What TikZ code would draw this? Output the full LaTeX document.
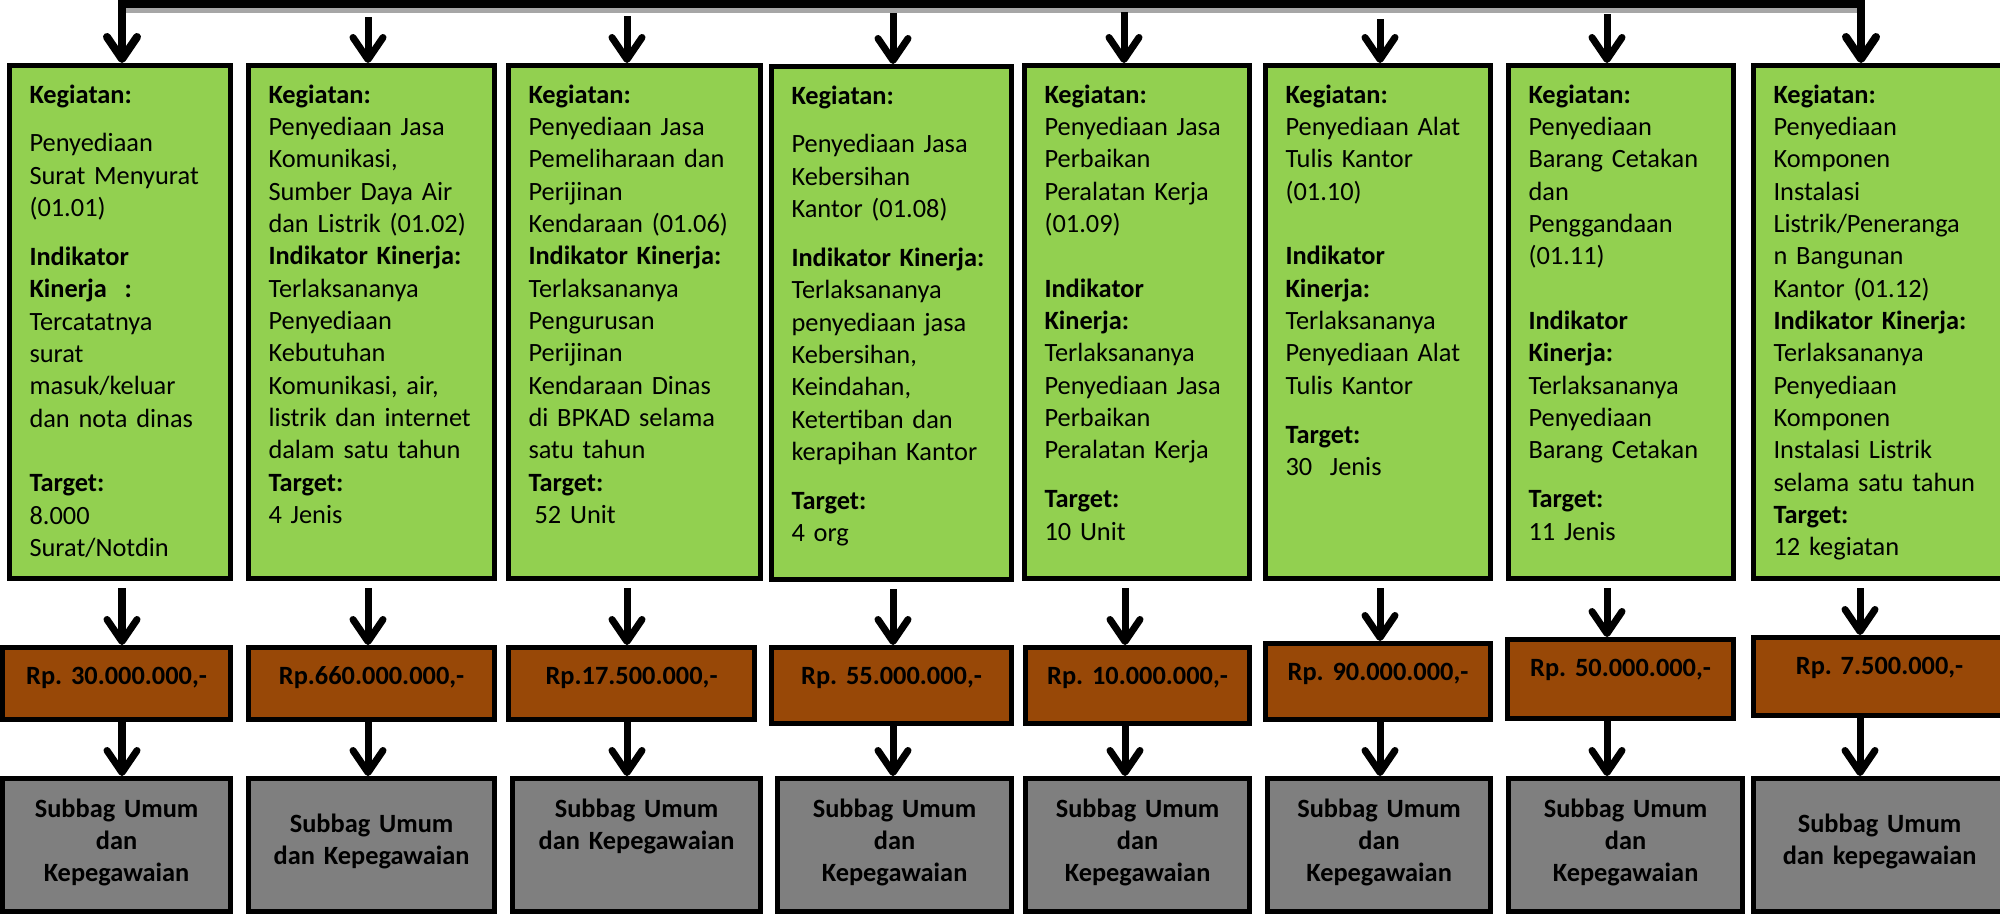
\documentclass[tikz,border=0pt]{standalone}
\usepackage{fontspec}
\setmainfont{Carlito}
\usetikzlibrary{arrows.meta}
\frenchspacing

\definecolor{hijau}{HTML}{92D050}
\definecolor{coklat}{HTML}{984807}
\definecolor{abu}{HTML}{7F7F7F}

\tikzset{
	basic/.style  = {draw, line width=0.05cm, rectangle, anchor=north west,
		inner xsep=0.2cm, inner ysep=0pt, font=\fontsize{7.5pt}{9.2pt}\selectfont},
	kegiatan/.style = {basic, fill=hijau, align=left,
		text height=0.375cm, text depth=4.755cm},
	anggaran/.style = {basic, fill=coklat, align=center,
		font=\fontsize{7.5pt}{9.2pt}\selectfont\bfseries, text height=0.365cm, text depth=0.355cm},
	pelaksana/.style = {basic, fill=abu, align=center,
		font=\fontsize{7.5pt}{9.2pt}\selectfont\bfseries, text height=0.385cm, text depth=0.945cm},
	pelaksana 2/.style = {pelaksana, text height=0.535cm, text depth=0.795cm},
	panah/.style = {->, draw, line width=0.07cm}
}

\begin{document}
\begin{tikzpicture}[x=0.01cm, y=-0.01cm,
>={Straight Barb[length=0.22cm,width=0.3cm,round]}]
\useasboundingbox (0,0) rectangle (2000,914);

% first row, the activities
\node[kegiatan, text width=1.81cm] (c1) at (7,63) {\textbf{Kegiatan:}\\[4.7pt]
	Penyediaan\\Surat Menyurat\\(01.01)\\[4.7pt]
	\textbf{Indikator}\\\textbf{Kinerja~~:}\\Tercatatnya\\surat\\masuk/keluar\\dan nota dinas\\[9.2pt]
	\textbf{Target:}\\8.000\\Surat/Notdin};
\node[kegiatan, text width=2.06cm] (c2) at (246,63) {\textbf{Kegiatan:}\\
	Penyediaan Jasa\\Komunikasi,\\Sumber Daya Air\\dan Listrik (01.02)\\
	\textbf{Indikator Kinerja:}\\Terlaksananya\\Penyediaan\\Kebutuhan\\Komunikasi, air,\\listrik dan internet\\dalam satu tahun\\
	\textbf{Target:}\\4 Jenis};
\node[kegiatan, text width=2.12cm] (c3) at (506,63) {\textbf{Kegiatan:}\\
	Penyediaan Jasa\\Pemeliharaan dan\\Perijinan\\Kendaraan (01.06)\\
	\textbf{Indikator Kinerja:}\\Terlaksananya\\Pengurusan\\Perijinan\\Kendaraan Dinas\\di BPKAD selama\\satu tahun\\
	\textbf{Target:}\\\hspace*{0.23em}52 Unit};
\node[kegiatan, text width=2.00cm] (c4) at (769,64) {\textbf{Kegiatan:}\\[4.7pt]
	Penyediaan Jasa\\Kebersihan\\Kantor (01.08)\\[4.7pt]
	\textbf{Indikator Kinerja:}\\Terlaksananya\\penyediaan jasa\\Kebersihan,\\Keindahan,\\Ketertiban dan\\kerapihan Kantor\\[4.7pt]
	\textbf{Target:}\\4 org};
\node[kegiatan, text width=1.85cm] (c5) at (1022,63) {\textbf{Kegiatan:}\\
	Penyediaan Jasa\\Perbaikan\\Peralatan Kerja\\(01.09)\\[9.2pt]
	\textbf{Indikator}\\\textbf{Kinerja:}\\Terlaksananya\\Penyediaan Jasa\\Perbaikan\\Peralatan Kerja\\[4.7pt]
	\textbf{Target:}\\10 Unit};
\node[kegiatan, text width=1.85cm] (c6) at (1263,63) {\textbf{Kegiatan:}\\
	Penyediaan Alat\\Tulis Kantor\\(01.10)\\[9.2pt]
	\textbf{Indikator}\\\textbf{Kinerja:}\\Terlaksananya\\Penyediaan Alat\\Tulis Kantor\\[4.7pt]
	\textbf{Target:}\\30~~Jenis};
\node[kegiatan, text width=1.85cm] (c7) at (1506,63) {\textbf{Kegiatan:}\\
	Penyediaan\\Barang Cetakan\\dan\\Penggandaan\\(01.11)\\[9.2pt]
	\textbf{Indikator}\\\textbf{Kinerja:}\\Terlaksananya\\Penyediaan\\Barang Cetakan\\[4.7pt]
	\textbf{Target:}\\11 Jenis};
\node[kegiatan, text width=2.12cm] (c8) at (1751,63) {\textbf{Kegiatan:}\\
	Penyediaan\\Komponen\\Instalasi\\Listrik/Peneranga\\n Bangunan\\Kantor (01.12)\\
	\textbf{Indikator Kinerja:}\\Terlaksananya\\Penyediaan\\Komponen\\Instalasi Listrik\\selama satu tahun\\
	\textbf{Target:}\\12 kegiatan};

% second row, the budgets
\node[anggaran, text width=1.88cm] (c11) at (0,645) {Rp. 30.000.000,-};
\node[anggaran, text width=2.06cm] (c21) at (246,645) {Rp.660.000.000,-};
\node[anggaran, text width=2.06cm] (c31) at (506,645) {Rp.17.500.000,-};
\node[anggaran, text width=2.00cm, text depth=0.395cm] (c41) at (769,645) {Rp. 55.000.000,-};
\node[anggaran, text width=1.84cm, text depth=0.395cm] (c51) at (1023,645) {Rp. 10.000.000,-};
\node[anggaran, text width=1.85cm, text depth=0.395cm] (c61) at (1263,641) {Rp. 90.000.000,-};
\node[anggaran, text width=1.86cm, text depth=0.425cm] (c71) at (1505,637) {Rp. 50.000.000,-};
\node[anggaran, text width=2.12cm, text depth=0.415cm] (c81) at (1751,635) {Rp. 7.500.000,-};

% third row, the unit in charge
\node[pelaksana, text width=1.88cm] (c111) at (0,776) {Subbag Umum\\dan\\Kepegawaian};
\node[pelaksana 2, text width=2.06cm] (c211) at (246,776) {Subbag Umum\\dan Kepegawaian};
\node[pelaksana, text width=2.08cm] (c311) at (510,776) {Subbag Umum\\dan Kepegawaian};
\node[pelaksana, text width=1.94cm] (c411) at (775,776) {Subbag Umum\\dan\\Kepegawaian};
\node[pelaksana, text width=1.84cm] (c511) at (1023,776) {Subbag Umum\\dan\\Kepegawaian};
\node[pelaksana, text width=1.83cm] (c611) at (1265,776) {Subbag Umum\\dan\\Kepegawaian};
\node[pelaksana, text width=1.94cm] (c711) at (1506,776) {Subbag Umum\\dan\\Kepegawaian};
\node[pelaksana 2, text width=2.12cm] (c811) at (1751,776) {Subbag Umum\\dan kepegawaian};

% top bar with its shadow
\coordinate (kiri) at (122,4);
\coordinate (kanan) at (1861,4);
\draw[black!35, line width=0.05cm] ([xshift=0.035cm, yshift=-0.068cm]kiri) -- ([yshift=-0.068cm]kanan);
\draw[panah, line width=0.08cm, <->] (kanan |- c8.north) -- (kanan) -- (kiri) -- (kiri |- c1.north);

% loose arrows into the activities
\foreach \i/\x/\y in {2/368/17, 3/627/16, 4/893/13, 5/1124/12, 6/1380/19, 7/1607/14}{
	\coordinate (t\i) at (\x,\y);
	\draw[panah] (t\i) -- (t\i |- c\i.north);
}

% arrows down each column
\foreach \i/\x in {1/122, 2/368, 3/627, 4/893, 5/1125, 6/1380, 7/1607, 8/1860}{
	\coordinate (p\i) at (\x,0);
	\draw[panah, shorten <=0.07cm] (c\i.south -| p\i) -- (c\i1.north -| p\i);
	\draw[panah] (c\i1.south -| p\i) -- (c\i11.north -| p\i);
}

\end{tikzpicture}
\end{document}
